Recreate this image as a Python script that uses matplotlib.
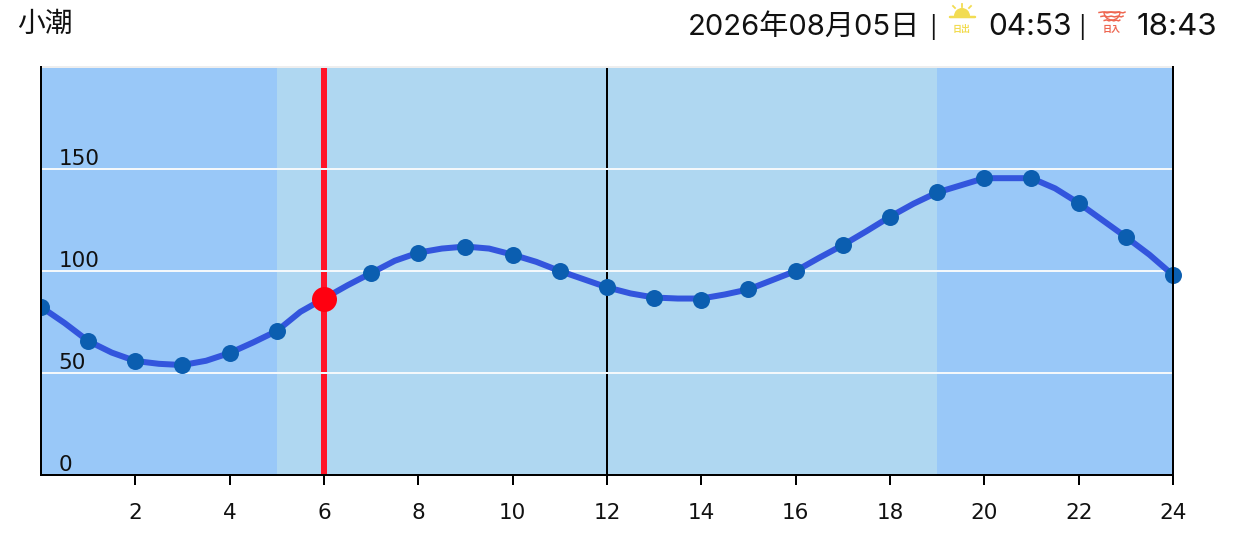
import numpy as np
import matplotlib
matplotlib.use("Agg")
import matplotlib.pyplot as plt
from matplotlib.patches import Wedge

plt.rcParams['font.family'] = ['Inter', 'Noto Sans CJK JP', 'DejaVu Sans']

# tide height, one value per hour
hours = np.arange(25)
tide = [82.4, 65.7, 55.9, 53.9, 59.8, 70.6, 86.5, 99, 109, 112, 108, 100, 92,
        87, 86, 91, 100, 112.7, 126.6, 138.5, 145.5, 145.5, 133.3, 116.7, 98]

# the drawn curve, read every half hour
curve_hours = np.arange(49) / 2
curve = [82.4, 74.5, 65.7, 60, 55.9, 54.5, 53.9, 56, 59.8, 65, 70.6, 80, 86.5,
         93, 99, 105, 109, 111, 112, 111, 108, 104.5, 100, 96, 92, 89, 87, 86.5,
         86.5, 88.5, 91, 95.5, 100, 106.5, 112.7, 119.5, 126.6, 133, 138.5, 142,
         145.5, 145.5, 145.5, 140.5, 133.3, 125, 116.7, 108, 98]

now_hour = 6
now_height = 86.5
day_start = 5
day_end = 19
noon = 12

y_grid = [50, 100, 150]
y_labels = [0, 50, 100, 150]
x_ticks = [2, 4, 6, 8, 10, 12, 14, 16, 18, 20, 22, 24]

W, H = 1235, 549
fig = plt.figure(figsize=(W / 100, H / 100), dpi=100)
ax = fig.add_axes([41 / W, (H - 475) / H, 1132 / W, 408 / H])
px = 0.72  # one pixel in points

ax.set_xlim(0, 24)
ax.set_ylim(0, 200)
ax.set_facecolor('#99c8f8')
ax.axvspan(day_start, day_end, color='#afd7f1', lw=0, zorder=1)

ax.axvline(noon, color='black', lw=2 * px, zorder=2)
ax.axvline(now_hour, color='#ff1428', lw=6 * px, zorder=2)
for v in y_grid:
    ax.axhline(v, color='#f4f8fb', lw=2 * px, zorder=3)

ax.plot(curve_hours, curve, color='#3355dd', lw=6 * px, zorder=4)
# the first marker is cut off by the axis, the last one is not
ax.plot(hours[:1], tide[:1], 'o', color='#0b5eb0', ms=17 * px, mew=0, zorder=5)
ax.plot(hours[1:], tide[1:], 'o', color='#0b5eb0', ms=17 * px, mew=0, zorder=5,
        clip_on=False)
ax.plot([now_hour], [now_height], 'o', color='#ff0010', ms=25 * px, mew=0,
        zorder=6)

for v in y_labels:
    ax.text(0.37, v + 2.2, str(v), fontsize=15.5, family='DejaVu Sans',
            color='#111111', va='baseline', ha='left', zorder=7)

ax.set_xticks(x_ticks)
ax.set_yticks([])
ax.tick_params(axis='x', length=10 * px, width=2 * px, pad=13,
               labelsize=15.5, labelcolor='#111111')
for lab in ax.get_xticklabels():
    lab.set_family('DejaVu Sans')
for side in ['left', 'right', 'bottom']:
    ax.spines[side].set_linewidth(2 * px)
    ax.spines[side].set_zorder(8)
ax.spines['top'].set_color('#eeeeee')
ax.spines['top'].set_linewidth(2 * px)

# header, drawn in pixel coordinates
top = fig.add_axes([0, 0, 1, 1], zorder=10)
top.set_xlim(0, W)
top.set_ylim(H, 0)
top.axis('off')

hdr = dict(fontsize=21, color='#111111', va='center', ha='left')
top.text(17, 25, '小潮', **dict(hdr, fontsize=20))
top.text(688, 27, '2026年08月05日', **hdr)
top.text(929, 27, '|', **dict(hdr, fontsize=16))
top.text(988, 27, '04:53', **dict(hdr, fontsize=21.5))
top.text(1078, 27, '|', **dict(hdr, fontsize=16))
top.text(1217, 27, '18:43', **dict(hdr, fontsize=22.5, ha='right'))

# sunrise icon
sun = '#f2dc52'
top.add_patch(Wedge((962, 16), 8, 180, 360, color=sun, lw=0))
top.plot([950, 975], [16.5, 16.5], color=sun, lw=2.5 * px, solid_capstyle='round')
for x0, y0, x1, y1 in [(962, 4, 962, 7), (953, 6, 955, 8), (971, 6, 969, 8)]:
    top.plot([x0, x1], [y0, y1], color=sun, lw=1.8 * px)
top.text(962, 29.5, '日出', fontsize=6.5, fontweight='bold', color=sun,
         ha='center', va='center')

# sunset icon
dusk = '#ee6650'
top.add_patch(Wedge((1112, 12), 8, 0, 180, fc='white', ec=dusk, lw=1.4 * px))
wave_dx = [-13, -9, -5, -1, 3, 7, 11, 13]
wave_dy = [0, -0.6, 0.4, -0.4, 0.4, -0.4, 0.4, -0.4]
for y0, span in [(12.5, 1.0), (16.5, 0.85), (20.5, 0.6)]:
    top.plot([1112 + d * span for d in wave_dx], [y0 + d for d in wave_dy],
             color=dusk, lw=1.5 * px)
top.text(1112, 29.5, '日入', fontsize=6.5, fontweight='bold', color=dusk,
         ha='center', va='center')

fig.savefig('out.png', dpi=100)
